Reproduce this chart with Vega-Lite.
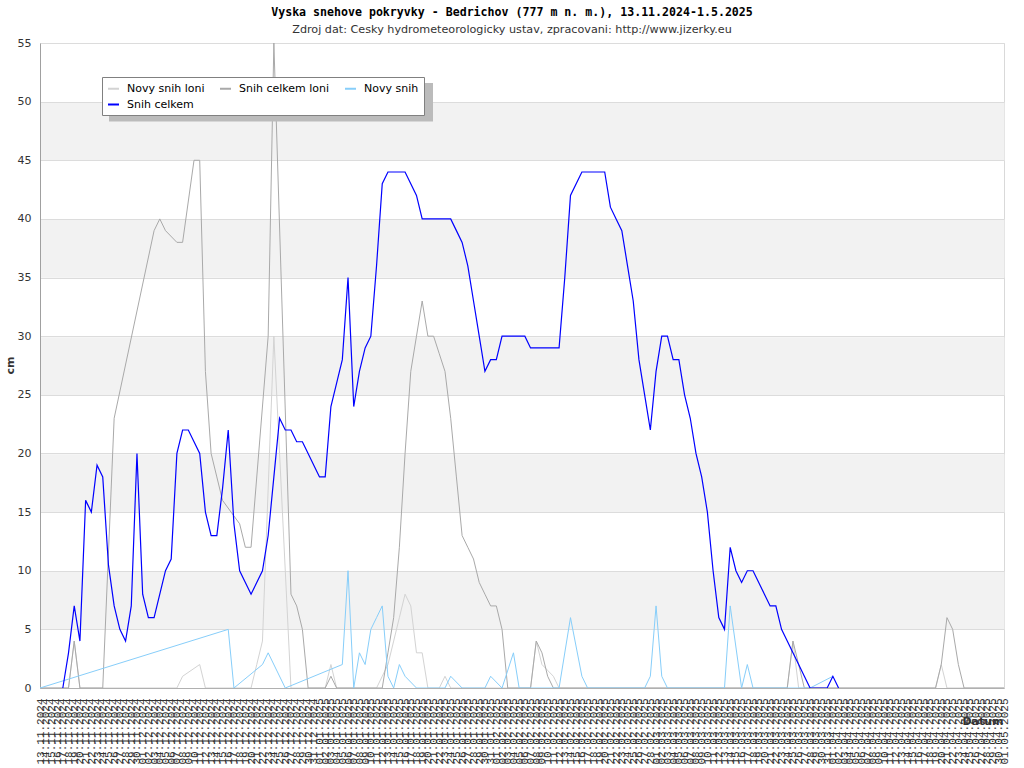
{
  "$schema": "https://vega.github.io/schema/vega-lite/v6.json",
  "width": 964,
  "height": 645,
  "autosize": {"type": "none"},
  "padding": {"left": 40, "top": 43, "right": 20, "bottom": 80},
  "background": "white",
  "title": {
    "text": "Vyska snehove pokryvky - Bedrichov (777 m n. m.), 13.11.2024-1.5.2025",
    "subtitle": "Zdroj dat: Cesky hydrometeorologicky ustav, zpracovani: http://www.jizerky.eu",
    "anchor": "middle",
    "dx": -10,
    "font": "DejaVu Sans Mono",
    "fontSize": 11.6,
    "fontWeight": "bold",
    "color": "#000000",
    "subtitleFont": "DejaVu Sans",
    "subtitleFontSize": 11.2,
    "subtitleColor": "#333333",
    "subtitlePadding": 5,
    "offset": 2
  },
  "datasets": {
    "nsl": [{"d":"2024-11-13","v":0},{"d":"2024-11-18","v":0},{"d":"2024-11-19","v":4},{"d":"2024-11-20","v":0},{"d":"2024-12-07","v":0},{"d":"2024-12-08","v":1},{"d":"2024-12-11","v":2},{"d":"2024-12-12","v":0},{"d":"2024-12-20","v":0},{"d":"2024-12-21","v":2},{"d":"2024-12-22","v":4},{"d":"2024-12-24","v":30},{"d":"2024-12-27","v":0},{"d":"2025-01-02","v":0},{"d":"2025-01-03","v":2},{"d":"2025-01-04","v":0},{"d":"2025-01-11","v":0},{"d":"2025-01-12","v":1},{"d":"2025-01-13","v":2},{"d":"2025-01-14","v":4},{"d":"2025-01-15","v":6},{"d":"2025-01-16","v":8},{"d":"2025-01-17","v":7},{"d":"2025-01-18","v":3},{"d":"2025-01-19","v":3},{"d":"2025-01-20","v":0},{"d":"2025-01-22","v":0},{"d":"2025-01-23","v":1},{"d":"2025-01-24","v":0},{"d":"2025-02-07","v":0},{"d":"2025-02-08","v":4},{"d":"2025-02-09","v":2},{"d":"2025-02-10","v":1.5},{"d":"2025-02-11","v":1},{"d":"2025-02-12","v":0},{"d":"2025-03-24","v":0},{"d":"2025-03-25","v":4},{"d":"2025-03-26","v":0},{"d":"2025-04-19","v":0},{"d":"2025-04-20","v":2},{"d":"2025-04-21","v":0},{"d":"2025-05-01","v":0}],
    "scl": [{"d":"2024-11-13","v":0},{"d":"2024-11-18","v":0},{"d":"2024-11-19","v":4},{"d":"2024-11-20","v":0},{"d":"2024-11-24","v":0},{"d":"2024-11-26","v":23},{"d":"2024-12-03","v":39},{"d":"2024-12-04","v":40},{"d":"2024-12-05","v":39},{"d":"2024-12-07","v":38},{"d":"2024-12-08","v":38},{"d":"2024-12-10","v":45},{"d":"2024-12-11","v":45},{"d":"2024-12-12","v":27},{"d":"2024-12-13","v":20},{"d":"2024-12-14","v":18},{"d":"2024-12-15","v":16},{"d":"2024-12-18","v":14},{"d":"2024-12-19","v":12},{"d":"2024-12-20","v":12},{"d":"2024-12-23","v":30},{"d":"2024-12-24","v":55},{"d":"2024-12-27","v":8},{"d":"2024-12-28","v":7},{"d":"2024-12-29","v":5},{"d":"2024-12-30","v":0},{"d":"2025-01-02","v":0},{"d":"2025-01-03","v":1},{"d":"2025-01-04","v":0},{"d":"2025-01-12","v":0},{"d":"2025-01-13","v":3},{"d":"2025-01-14","v":6},{"d":"2025-01-15","v":12},{"d":"2025-01-16","v":20},{"d":"2025-01-17","v":27},{"d":"2025-01-18","v":30},{"d":"2025-01-19","v":33},{"d":"2025-01-20","v":30},{"d":"2025-01-21","v":30},{"d":"2025-01-22","v":28.5},{"d":"2025-01-23","v":27},{"d":"2025-01-24","v":23},{"d":"2025-01-25","v":18},{"d":"2025-01-26","v":13},{"d":"2025-01-27","v":12},{"d":"2025-01-28","v":11},{"d":"2025-01-29","v":9},{"d":"2025-01-30","v":8},{"d":"2025-01-31","v":7},{"d":"2025-02-01","v":7},{"d":"2025-02-02","v":5},{"d":"2025-02-03","v":0},{"d":"2025-02-07","v":0},{"d":"2025-02-08","v":4},{"d":"2025-02-09","v":3},{"d":"2025-02-10","v":1},{"d":"2025-02-11","v":0},{"d":"2025-03-24","v":0},{"d":"2025-03-25","v":4},{"d":"2025-03-26","v":2},{"d":"2025-03-27","v":0},{"d":"2025-04-19","v":0},{"d":"2025-04-20","v":2},{"d":"2025-04-21","v":6},{"d":"2025-04-22","v":5},{"d":"2025-04-23","v":2},{"d":"2025-04-24","v":0},{"d":"2025-05-01","v":0}],
    "ns": [{"d":"2024-11-13","v":0},{"d":"2024-12-16","v":5},{"d":"2024-12-17","v":0},{"d":"2024-12-22","v":2},{"d":"2024-12-23","v":3},{"d":"2024-12-26","v":0},{"d":"2025-01-05","v":2},{"d":"2025-01-06","v":10},{"d":"2025-01-07","v":0},{"d":"2025-01-08","v":3},{"d":"2025-01-09","v":2},{"d":"2025-01-10","v":5},{"d":"2025-01-11","v":6},{"d":"2025-01-12","v":7},{"d":"2025-01-13","v":1},{"d":"2025-01-14","v":0},{"d":"2025-01-15","v":2},{"d":"2025-01-16","v":1},{"d":"2025-01-18","v":0},{"d":"2025-01-23","v":0},{"d":"2025-01-24","v":1},{"d":"2025-01-26","v":0},{"d":"2025-01-30","v":0},{"d":"2025-01-31","v":1},{"d":"2025-02-02","v":0},{"d":"2025-02-04","v":3},{"d":"2025-02-05","v":0},{"d":"2025-02-12","v":0},{"d":"2025-02-14","v":6},{"d":"2025-02-16","v":1},{"d":"2025-02-17","v":0},{"d":"2025-02-27","v":0},{"d":"2025-02-28","v":1},{"d":"2025-03-01","v":7},{"d":"2025-03-02","v":1},{"d":"2025-03-03","v":0},{"d":"2025-03-13","v":0},{"d":"2025-03-14","v":7},{"d":"2025-03-16","v":0},{"d":"2025-03-17","v":2},{"d":"2025-03-18","v":0},{"d":"2025-03-28","v":0},{"d":"2025-04-01","v":1}],
    "sc": [{"d":"2024-11-17","v":0},{"d":"2024-11-18","v":3},{"d":"2024-11-19","v":7},{"d":"2024-11-20","v":4},{"d":"2024-11-21","v":16},{"d":"2024-11-22","v":15},{"d":"2024-11-23","v":19},{"d":"2024-11-24","v":18},{"d":"2024-11-25","v":10.5},{"d":"2024-11-26","v":7},{"d":"2024-11-27","v":5},{"d":"2024-11-28","v":4},{"d":"2024-11-29","v":7},{"d":"2024-11-30","v":20},{"d":"2024-12-01","v":8},{"d":"2024-12-02","v":6},{"d":"2024-12-03","v":6},{"d":"2024-12-04","v":8},{"d":"2024-12-05","v":10},{"d":"2024-12-06","v":11},{"d":"2024-12-07","v":20},{"d":"2024-12-08","v":22},{"d":"2024-12-09","v":22},{"d":"2024-12-10","v":21},{"d":"2024-12-11","v":20},{"d":"2024-12-12","v":15},{"d":"2024-12-13","v":13},{"d":"2024-12-14","v":13},{"d":"2024-12-15","v":17},{"d":"2024-12-16","v":22},{"d":"2024-12-17","v":14},{"d":"2024-12-18","v":10},{"d":"2024-12-19","v":9},{"d":"2024-12-20","v":8},{"d":"2024-12-21","v":9},{"d":"2024-12-22","v":10},{"d":"2024-12-23","v":13},{"d":"2024-12-24","v":18},{"d":"2024-12-25","v":23},{"d":"2024-12-26","v":22},{"d":"2024-12-27","v":22},{"d":"2024-12-28","v":21},{"d":"2024-12-29","v":21},{"d":"2024-12-30","v":20},{"d":"2024-12-31","v":19},{"d":"2025-01-01","v":18},{"d":"2025-01-02","v":18},{"d":"2025-01-03","v":24},{"d":"2025-01-04","v":26},{"d":"2025-01-05","v":28},{"d":"2025-01-06","v":35},{"d":"2025-01-07","v":24},{"d":"2025-01-08","v":27},{"d":"2025-01-09","v":29},{"d":"2025-01-10","v":30},{"d":"2025-01-11","v":36},{"d":"2025-01-12","v":43},{"d":"2025-01-13","v":44},{"d":"2025-01-14","v":44},{"d":"2025-01-15","v":44},{"d":"2025-01-16","v":44},{"d":"2025-01-17","v":43},{"d":"2025-01-18","v":42},{"d":"2025-01-19","v":40},{"d":"2025-01-20","v":40},{"d":"2025-01-21","v":40},{"d":"2025-01-22","v":40},{"d":"2025-01-23","v":40},{"d":"2025-01-24","v":40},{"d":"2025-01-25","v":39},{"d":"2025-01-26","v":38},{"d":"2025-01-27","v":36},{"d":"2025-01-28","v":33},{"d":"2025-01-29","v":30},{"d":"2025-01-30","v":27},{"d":"2025-01-31","v":28},{"d":"2025-02-01","v":28},{"d":"2025-02-02","v":30},{"d":"2025-02-03","v":30},{"d":"2025-02-04","v":30},{"d":"2025-02-05","v":30},{"d":"2025-02-06","v":30},{"d":"2025-02-07","v":29},{"d":"2025-02-08","v":29},{"d":"2025-02-09","v":29},{"d":"2025-02-10","v":29},{"d":"2025-02-11","v":29},{"d":"2025-02-12","v":29},{"d":"2025-02-13","v":35},{"d":"2025-02-14","v":42},{"d":"2025-02-15","v":43},{"d":"2025-02-16","v":44},{"d":"2025-02-17","v":44},{"d":"2025-02-18","v":44},{"d":"2025-02-19","v":44},{"d":"2025-02-20","v":44},{"d":"2025-02-21","v":41},{"d":"2025-02-22","v":40},{"d":"2025-02-23","v":39},{"d":"2025-02-24","v":36},{"d":"2025-02-25","v":33},{"d":"2025-02-26","v":28},{"d":"2025-02-27","v":25},{"d":"2025-02-28","v":22},{"d":"2025-03-01","v":27},{"d":"2025-03-02","v":30},{"d":"2025-03-03","v":30},{"d":"2025-03-04","v":28},{"d":"2025-03-05","v":28},{"d":"2025-03-06","v":25},{"d":"2025-03-07","v":23},{"d":"2025-03-08","v":20},{"d":"2025-03-09","v":18},{"d":"2025-03-10","v":15},{"d":"2025-03-11","v":10},{"d":"2025-03-12","v":6},{"d":"2025-03-13","v":5},{"d":"2025-03-14","v":12},{"d":"2025-03-15","v":10},{"d":"2025-03-16","v":9},{"d":"2025-03-17","v":10},{"d":"2025-03-18","v":10},{"d":"2025-03-19","v":9},{"d":"2025-03-20","v":8},{"d":"2025-03-21","v":7},{"d":"2025-03-22","v":7},{"d":"2025-03-23","v":5},{"d":"2025-03-24","v":4},{"d":"2025-03-25","v":3},{"d":"2025-03-26","v":2},{"d":"2025-03-27","v":1},{"d":"2025-03-28","v":0},{"d":"2025-03-29","v":0},{"d":"2025-03-30","v":0},{"d":"2025-03-31","v":0},{"d":"2025-04-01","v":1},{"d":"2025-04-02","v":0}]
  },
  "resolve": {"axis": {"y": "independent"}},
  "encoding": {
    "x": {
      "field": "d",
      "type": "temporal",
      "scale": {"type": "utc", "nice": false, "domain": [{"year": 2024, "month": 11, "date": 13, "utc": true}, {"year": 2025, "month": 5, "date": 1, "utc": true}]},
      "axis": {
        "title": "Datum",
        "labelExpr": "utcFormat(datum.value, '%d.%m.%Y')",
        "tickCount": {"interval": "day", "step": 1},
        "labelAngle": 270,
        "labelOverlap": false,
        "labelFlush": false,
        "labelBound": false,
        "labelFont": "Liberation Mono",
        "labelFontSize": 11,
        "labelColor": "#333333",
        "labelPadding": 10,
        "ticks": false,
        "grid": false,
        "domainColor": "#b0b0b0",
        "zindex": 1,
        "titleFont": "DejaVu Sans",
        "titleFontSize": 11,
        "titleFontWeight": "bold",
        "titleColor": "#333333",
        "titleX": 963,
        "titleY": 36,
        "titleAlign": "right",
        "titleBaseline": "alphabetic"
      }
    }
  },
  "layer": [
    {
      "data": {"name": "nsl"},
      "mark": {"type": "line", "strokeWidth": 1},
      "encoding": {
        "y": {"field": "v", "type": "quantitative", "scale": {"domain": [0, 55], "nice": false},
          "axis": {"orient": "right", "values": [7.5, 17.5, 27.5, 37.5, 47.5], "grid": true, "gridColor": "#f2f2f2", "gridWidth": 58.64, "labels": false, "ticks": false, "domain": false, "title": null}},
        "color": {"datum": "Novy snih loni", "type": "nominal",
          "scale": {"domain": ["Novy snih loni", "Snih celkem loni", "Novy snih", "Snih celkem"], "range": ["#d3d3d3", "#a9a9a9", "#87cefa", "#0000ff"]},
          "legend": {"orient": "none", "legendX": 62, "legendY": 34, "columns": 3, "direction": "horizontal", "title": null, "symbolType": "stroke", "symbolStrokeWidth": 2, "symbolSize": 121, "labelFont": "DejaVu Sans", "labelFontSize": 11, "labelColor": "#000000", "labelOffset": 7, "fillColor": "#ffffff", "strokeColor": "#808080", "padding": 5, "columnPadding": 11, "rowPadding": 4, "zindex": 2}},
        "opacity": {"datum": "Novy snih loni", "type": "nominal",
          "scale": {"domain": ["Snih celkem", "Snih celkem loni", "Novy snih", "Novy snih loni"], "range": [1, 1]},
          "legend": {"orient": "none", "legendX": 69, "legendY": 40, "values": ["Snih celkem"], "title": null, "padding": 0,
            "symbolType": "M-1,-1H1V-0.763H-1Z", "symbolSize": 104976, "symbolFillColor": "#bbbbbb", "symbolStrokeColor": "#bbbbbb", "symbolStrokeWidth": 0, "symbolOpacity": 1,
            "labelExpr": "''", "labelFontSize": 1, "labelOffset": 0,
            "zindex": 1,
            "encode": {"symbols": {"update": {"fill": {"value": "#bbbbbb"}, "fillOpacity": {"value": 1}, "opacity": {"value": 1}, "strokeWidth": {"value": 0}}}}}}
      }
    },
    {
      "data": {"name": "scl"},
      "mark": {"type": "line", "strokeWidth": 1},
      "encoding": {
        "y": {"field": "v", "type": "quantitative", "scale": {"domain": [0, 55], "nice": false},
          "axis": {"orient": "left", "values": [0, 5, 10, 15, 20, 25, 30, 35, 40, 45, 50, 55], "grid": true, "gridColor": "#dcdcdc", "ticks": false, "domainColor": "#a0a0a0", "labelFont": "DejaVu Sans", "labelFontSize": 11, "labelColor": "#333333", "labelPadding": 9, "title": "cm", "titleFont": "DejaVu Sans", "titleFontSize": 11, "titleFontWeight": "bold", "titleColor": "#333333", "titleX": -30, "titleY": 322, "titleAlign": "center", "titleBaseline": "middle"}},
        "color": {"datum": "Snih celkem loni", "type": "nominal"},
        "opacity": {"datum": "Snih celkem loni", "type": "nominal"}
      }
    },
    {
      "data": {"name": "ns"},
      "mark": {"type": "line", "strokeWidth": 1},
      "encoding": {
        "y": {"field": "v", "type": "quantitative", "axis": null},
        "color": {"datum": "Novy snih", "type": "nominal"},
        "opacity": {"datum": "Novy snih", "type": "nominal"}
      }
    },
    {
      "data": {"name": "sc"},
      "mark": {"type": "line", "strokeWidth": 1.2},
      "encoding": {
        "y": {"field": "v", "type": "quantitative", "axis": null},
        "color": {"datum": "Snih celkem", "type": "nominal"},
        "opacity": {"datum": "Snih celkem", "type": "nominal"}
      }
    }
  ],
  "config": {
    "view": {"stroke": "#d9d9d9"}
  }
}
